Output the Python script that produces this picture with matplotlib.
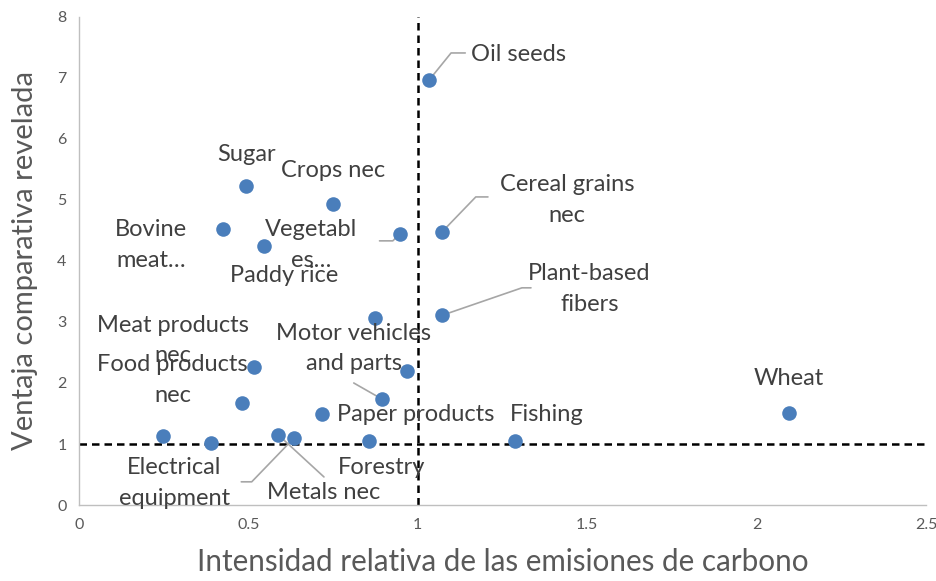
import matplotlib
matplotlib.use("Agg")
import matplotlib.pyplot as plt

# data
x_vals = [1.034, 0.494, 0.749, 0.426, 0.546, 0.946, 1.072, 1.072, 0.875, 0.967,
          0.517, 0.482, 0.893, 2.095, 0.717, 1.287, 0.855, 0.247, 0.391, 0.588, 0.635]
y_vals = [6.97, 5.23, 4.93, 4.52, 4.25, 4.44, 4.48, 3.11, 3.07, 2.20,
          2.26, 1.67, 1.74, 1.51, 1.49, 1.05, 1.05, 1.13, 1.02, 1.15, 1.10]
names = ["Oil seeds", "Sugar", "Crops nec", "Bovine\nmeat…", "Paddy rice", "Vegetabl\nes…",
         "Cereal grains\nnec", "Plant-based\nfibers", "", "",
         "Meat products\nnec", "Food products\nnec", "Motor vehicles\nand parts", "Wheat",
         "Paper products", "Fishing", "Forestry", "", "", "Metals nec", "Electrical\nequipment"]

# label positions (data units), None = no label
label_pos = [(1.296, 7.39), (0.494, 5.75), (0.749, 5.48), (0.212, 4.26), (0.605, 3.77),
             (0.684, 4.26), (1.44, 5.0), (1.507, 3.54), None, None,
             (0.276, 2.70), (0.276, 2.05), (0.811, 2.57), (2.095, 2.07),
             (0.995, 1.49), (1.381, 1.49), (0.893, 0.62), None, None, (0.723, 0.21), (0.282, 0.36)]

# leader lines: index -> (start point, angle of segment reaching the marker or None for straight)
leaders = {0: ((1.140, 7.41), 51), 5: ((0.887, 4.33), 45), 6: ((1.207, 5.05), 46),
           7: ((1.334, 3.56), 19), 12: ((0.811, 2.0), None), 19: ((0.723, 0.46), None),
           20: ((0.479, 0.38), 46)}

txt = "#404040"
tick = "#595959"
plt.rcParams["font.family"] = ["Lato", "DejaVu Sans"]

fig = plt.figure(figsize=(9.37, 5.81), dpi=100)
ax = fig.add_axes([0.0843, 0.1308, 0.904, 0.84])

ax.axhline(1, color="black", ls=(0, (3, 2)), lw=1.8, zorder=1)
ax.axvline(1, color="black", ls=(0, (3, 2)), lw=1.8, zorder=1)
ax.scatter(x_vals, y_vals, s=110, color="#4a7ebb", zorder=3, linewidths=0)

for i, (nm, pos) in enumerate(zip(names, label_pos)):
    if pos is None:
        continue
    ax.text(pos[0], pos[1], nm, ha="center", va="center", fontsize=17,
            color=txt, linespacing=1.55, zorder=4)

for i, (start, ang) in leaders.items():
    cs = "arc3,rad=0" if ang is None else f"angle,angleA=0,angleB={ang},rad=0"
    ax.annotate("", xy=(x_vals[i], y_vals[i]), xytext=start,
                arrowprops=dict(arrowstyle="-", color="#a6a6a6", lw=1.2,
                                connectionstyle=cs, shrinkA=0, shrinkB=0), zorder=2)

ax.set_xlim(0, 2.5)
ax.set_ylim(0, 8)
ax.set_xticks([0, 0.5, 1, 1.5, 2, 2.5])
ax.set_xticklabels(["0", "0.5", "1", "1.5", "2", "2.5"])
ax.set_yticks(range(9))
ax.tick_params(length=0, labelsize=11.5, colors=tick, pad=9)
for s in ["top", "right"]:
    ax.spines[s].set_visible(False)
for s in ["left", "bottom"]:
    ax.spines[s].set_color("#bfbfbf")
    ax.spines[s].set_linewidth(1)

ax.set_xlabel("Intensidad relativa de las emisiones de carbono", fontsize=21.3, color=tick, labelpad=12)
ax.set_ylabel("Ventaja comparativa revelada", fontsize=21, color=tick, labelpad=14)

fig.savefig("out.png", dpi=100)
